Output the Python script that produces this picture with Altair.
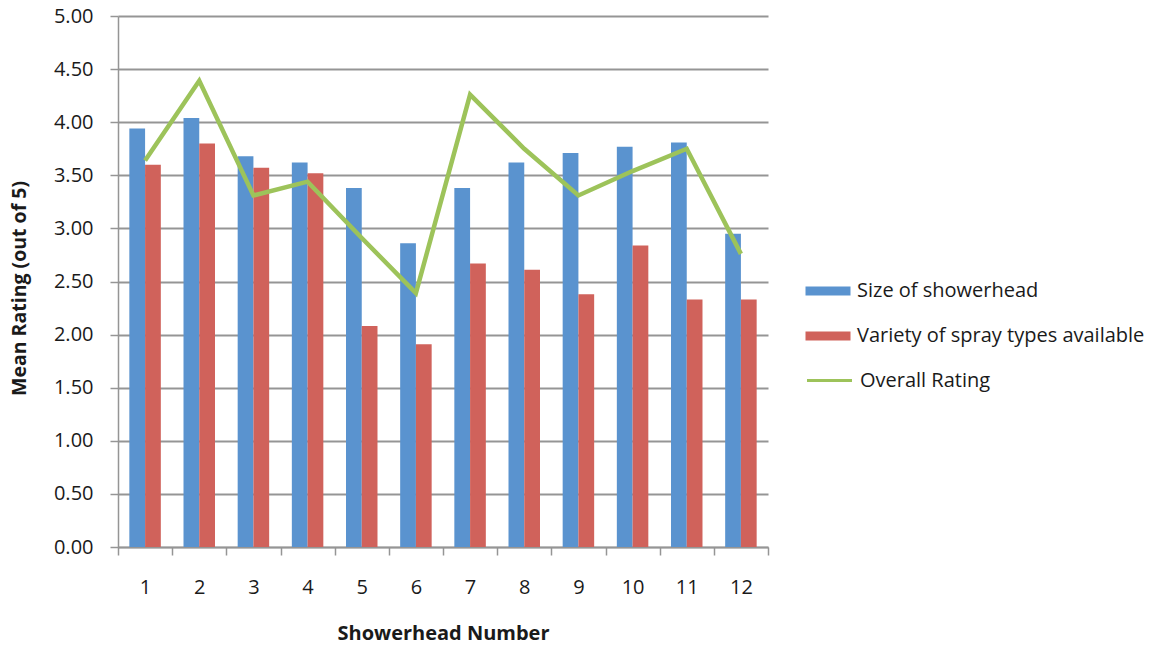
import altair as alt
import pandas as pd

# Mean ratings per showerhead (out of 5)
showerheads = [1, 2, 3, 4, 5, 6, 7, 8, 9, 10, 11, 12]
size_of_showerhead = [3.94, 4.04, 3.68, 3.62, 3.38, 2.86, 3.38, 3.62, 3.71, 3.77, 3.81, 2.95]
spray_variety = [3.60, 3.80, 3.57, 3.52, 2.08, 1.91, 2.67, 2.61, 2.38, 2.84, 2.33, 2.33]
overall_rating = [3.64, 4.39, 3.31, 3.44, 2.91, 2.39, 4.26, 3.75, 3.31, 3.54, 3.75, 2.76]

bar_series = ["Size of showerhead", "Variety of spray types available"]
line_series = ["Overall Rating"]
bar_colors = ["#5A93CF", "#D0625B"]
line_colors = ["#9DC35A"]

FONT = "Open Sans"
TEXT = "#1a1a1a"
GRID = "#959595"

bars_df = pd.DataFrame({
    "Showerhead": showerheads * 2,
    "Series": [bar_series[0]] * 12 + [bar_series[1]] * 12,
    "Rating": size_of_showerhead + spray_variety,
})
line_df = pd.DataFrame({
    "Showerhead": showerheads,
    "Series": line_series * 12,
    "Rating": overall_rating,
})

x_enc = alt.X(
    "Showerhead:O",
    scale=alt.Scale(paddingInner=0, paddingOuter=0),
    axis=alt.Axis(
        title="Showerhead Number",
        labelAngle=0,
        tickBand="extent",
        grid=False,
        domainColor=GRID,
        domainWidth=1.5,
        tickColor=GRID,
        tickWidth=1.5,
        tickSize=8,
        labelPadding=22,
        labelFontSize=20,
        labelColor=TEXT,
        labelFont=FONT,
        titleFont=FONT,
        titleFontSize=20,
        titleFontWeight="bold",
        titleColor=TEXT,
        titleX=325,
        titleY=86,
        titleBaseline="middle",
    ),
)

y_enc = alt.Y(
    "Rating:Q",
    scale=alt.Scale(domain=[0, 5], nice=False),
    axis=alt.Axis(
        title="Mean Rating (out of 5)",
        values=[0, 0.5, 1, 1.5, 2, 2.5, 3, 3.5, 4, 4.5, 5],
        format=".2f",
        grid=True,
        gridColor=GRID,
        gridWidth=2,
        domainColor=GRID,
        domainWidth=1.5,
        tickColor=GRID,
        tickWidth=1.5,
        tickSize=8,
        labelPadding=17,
        labelFontSize=20,
        labelColor=TEXT,
        labelFont=FONT,
        titleFont=FONT,
        titleFontSize=19.5,
        titleFontWeight="bold",
        titleColor=TEXT,
        titleX=-99,
        titleY=272,
        titleBaseline="middle",
    ),
)

bars = alt.Chart(bars_df).mark_bar().encode(
    x=x_enc,
    y=y_enc,
    xOffset=alt.XOffset(
        "Series:N",
        sort=bar_series,
        scale=alt.Scale(domain=bar_series, paddingInner=0, paddingOuter=0.72),
    ),
    fill=alt.Fill(
        "Series:N",
        scale=alt.Scale(domain=bar_series, range=bar_colors),
        legend=alt.Legend(
            title=None,
            orient="none",
            legendX=692,
            legendY=257,
            symbolType="M-1.25,-0.25H1.25V0.25H-1.25Z",
            symbolSize=1296,
            symbolStrokeWidth=0,
            symbolOpacity=1,
            labelOffset=11,
            labelFontSize=20,
            labelFont=FONT,
            labelColor=TEXT,
            rowPadding=17,
            labelLimit=400,
        ),
    ),
)

line = alt.Chart(line_df).mark_line(strokeWidth=4.5, strokeJoin="miter").encode(
    x=alt.X("Showerhead:O"),
    y=alt.Y("Rating:Q"),
    stroke=alt.Stroke(
        "Series:N",
        scale=alt.Scale(domain=line_series, range=line_colors),
        legend=alt.Legend(
            title=None,
            orient="none",
            legendX=692,
            legendY=345,
            symbolType="M-1.25,0H1.25",
            symbolSize=1296,
            symbolStrokeWidth=3,
            labelOffset=11,
            labelFontSize=20,
            labelFont=FONT,
            labelColor=TEXT,
            labelLimit=400,
        ),
    ),
)

chart = (
    alt.layer(bars, line)
    .properties(
        width=650,
        height=531,
        autosize=alt.AutoSizeParams(type="none"),
        padding={"left": 118, "top": 16, "right": 404, "bottom": 103},
        background="white",
    )
    .configure_view(stroke=None)
)

chart.save("out.html", embed_options={"renderer": "svg", "actions": False})
